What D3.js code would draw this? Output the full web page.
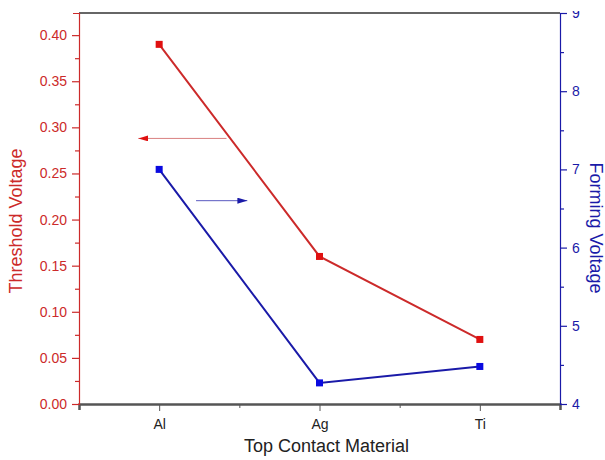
<!DOCTYPE html>
<html>
<head>
<meta charset="utf-8">
<script src="https://cdn.jsdelivr.net/npm/d3@7"></script>
<style>
  body { margin: 0; background: #fff; }
  text { font-family: "Liberation Sans", Arial, sans-serif; }
</style>
</head>
<body>
<div id="chart"></div>
<script>
// data
const materials = ["Al", "Ag", "Ti"];
const thresholdVoltage = [0.39, 0.16, 0.07];
const formingVoltage = [7.0, 4.27, 4.48];
const leftTicks = [0, 0.05, 0.10, 0.15, 0.20, 0.25, 0.30, 0.35, 0.40];
const rightTicks = [4, 5, 6, 7, 8, 9];
// arrow annotations, in data units [x1, x2, y]
const redArrow = [1.42, 0.87, 0.288];
const blueArrow = [1.23, 1.55, 6.6];

const width = 605, height = 460;
const margin = {top: 13, right: 45, bottom: 56, left: 79};
const red = "#cc2a2a", redMark = "#e01010";
const blue = "#1a1aa8", blueMark = "#0a0ae0";

const svg = d3.select("#chart").append("svg")
    .attr("width", width)
    .attr("height", height);

const x = d3.scaleLinear()
    .domain([0.5, materials.length + 0.5])
    .range([margin.left, width - margin.right]);

const yL = d3.scaleLinear()
    .domain([0, 0.424])
    .range([height - margin.bottom, margin.top]);

const yR = d3.scaleLinear()
    .domain([4, 9])
    .range([height - margin.bottom, margin.top]);

const x0 = margin.left, x1 = width - margin.right;
const yTop = margin.top, yBot = height - margin.bottom;

// top frame line
svg.append("line")
    .attr("x1", x0).attr("x2", x1)
    .attr("y1", yTop).attr("y2", yTop)
    .attr("stroke", "#333").attr("stroke-width", 1.5);

// bottom axis
const xAxis = svg.append("g")
    .attr("transform", `translate(0,${yBot})`)
    .call(d3.axisBottom(x)
        .tickValues([1, 1.5, 2, 2.5, 3])
        .tickSize(6)
        .tickFormat(d => Number.isInteger(d) ? materials[d - 1] : ""));
xAxis.select(".domain").attr("stroke", "#555").attr("stroke-width", 2.5);
xAxis.selectAll(".tick line").attr("stroke", "#555").attr("y1", 0).attr("y2", d => Number.isInteger(d) ? 7 : 4);
xAxis.selectAll(".tick text").attr("fill", "#222").attr("font-size", 14).attr("y", 12).attr("dy", "0.95em");

// left axis
const leftAxis = svg.append("g")
    .attr("transform", `translate(${x0},0)`)
    .call(d3.axisLeft(yL)
        .tickValues(d3.range(0, 0.425, 0.025))
        .tickSize(6)
        .tickFormat(d => leftTicks.some(t => Math.abs(t - d) < 1e-6) ? d3.format(".2f")(d) : ""));
leftAxis.selectAll(".tick line").attr("x2", (d, i) => i % 2 === 0 ? -7 : -4);
leftAxis.select(".domain").attr("stroke", red).attr("stroke-width", 1.2);
leftAxis.selectAll(".tick line").attr("stroke", red).attr("stroke-width", 1.2);
leftAxis.selectAll(".tick text").attr("fill", red).attr("font-size", 14).attr("x", -12);

// right axis
const rightAxis = svg.append("g")
    .attr("transform", `translate(${x1},0)`)
    .call(d3.axisRight(yR)
        .tickValues(d3.range(4, 9.01, 0.5))
        .tickSize(6)
        .tickFormat(d => rightTicks.includes(d) ? d : ""));
rightAxis.selectAll(".tick line").attr("x2", (d, i) => i % 2 === 0 ? 7 : 4);
rightAxis.select(".domain").attr("stroke", blue).attr("stroke-width", 1.2);
rightAxis.selectAll(".tick line").attr("stroke", blue).attr("stroke-width", 1.2);
rightAxis.selectAll(".tick text").attr("fill", blue).attr("font-size", 14).attr("x", 12);

// the "9" is cut at the top edge in the reference
svg.append("rect").attr("x", x1 + 2).attr("y", 0).attr("width", 60).attr("height", yTop - 2).attr("fill", "#fff");

// axis titles
svg.append("text")
    .attr("transform", `translate(22,221) rotate(-90)`)
    .attr("text-anchor", "middle")
    .attr("fill", red)
    .attr("font-size", 18)
    .text("Threshold Voltage");

svg.append("text")
    .attr("transform", `translate(590,228) rotate(90)`)
    .attr("text-anchor", "middle")
    .attr("fill", blue)
    .attr("font-size", 18)
    .text("Forming Voltage");

svg.append("text")
    .attr("x", (x0 + x1) / 2 + 7)
    .attr("y", 452)
    .attr("text-anchor", "middle")
    .attr("fill", "#222")
    .attr("font-size", 18)
    .text("Top Contact Material");

// series
function drawSeries(vals, yScale, lineColor, markColor) {
    const pts = vals.map((v, i) => [x(i + 1), yScale(v)]);
    svg.append("path")
        .attr("d", d3.line()(pts))
        .attr("fill", "none")
        .attr("stroke", lineColor)
        .attr("stroke-width", 2);
    svg.selectAll(null)
        .data(pts)
        .enter().append("rect")
        .attr("x", d => d[0] - 3.5)
        .attr("y", d => d[1] - 3.5)
        .attr("width", 7)
        .attr("height", 7)
        .attr("fill", markColor);
}
drawSeries(thresholdVoltage, yL, red, redMark);
drawSeries(formingVoltage, yR, blue, blueMark);

// arrows
const defs = svg.append("defs");
function marker(id, color) {
    defs.append("marker")
        .attr("id", id)
        .attr("viewBox", "0 0 10 6")
        .attr("refX", 10).attr("refY", 3)
        .attr("markerWidth", 10).attr("markerHeight", 6)
        .attr("markerUnits", "userSpaceOnUse")
        .attr("orient", "auto")
        .append("path")
        .attr("d", "M0,0 L10,3 L0,6 Z")
        .attr("fill", color);
}
marker("arrRed", redMark);
marker("arrBlue", blue);

svg.append("line")
    .attr("x1", x(redArrow[0])).attr("x2", x(redArrow[1]))
    .attr("y1", yL(redArrow[2])).attr("y2", yL(redArrow[2]))
    .attr("stroke", "#d98080").attr("stroke-width", 1)
    .attr("marker-end", "url(#arrRed)");

svg.append("line")
    .attr("x1", x(blueArrow[0])).attr("x2", x(blueArrow[1]))
    .attr("y1", yR(blueArrow[2])).attr("y2", yR(blueArrow[2]))
    .attr("stroke", "#5a5ac0").attr("stroke-width", 1)
    .attr("marker-end", "url(#arrBlue)");
</script>
</body>
</html>
